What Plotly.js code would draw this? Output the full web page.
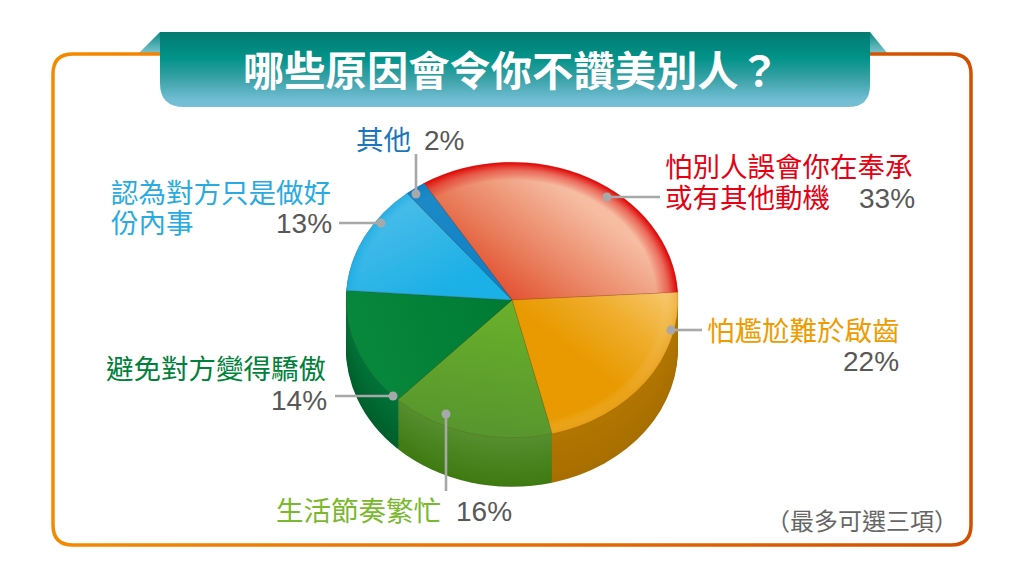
<!DOCTYPE html>
<html><head><meta charset="utf-8">
<script src="https://cdn.plot.ly/plotly-3.0.1.min.js"></script>
<style>html,body{margin:0;padding:0;background:#fff}#c{width:1024px;height:576px}</style>
</head><body><div id="c"></div>
<script>
const categories = ['怕別人誤會你在奉承或有其他動機','怕尷尬難於啟齒','生活節奏繁忙','避免對方變得驕傲','認為對方只是做好份內事','其他'];
const values = [33,22,16,14,13,2];
const titleText = '哪些原因會令你不讚美別人？';
const noteText = '（最多可選三項）';
const wallTop = ['#c0392b','#b27600','#568f2e','#00743a','#1593c8','#0f70a8'];
const wallBottom = ['#a02818','#a86f00','#3f7a12','#005f2c','#107aa8','#0c5a88'];

const W=1024,H=576, fx=x=>x/W, fy=y=>1-y/H;
const cx=512, cy=300, rx=166, squash=0.83, depth=49, step=2;
const CJK='"Noto Sans CJK TC","Noto Sans CJK SC",sans-serif', LAT='"Liberation Sans",Arial,sans-serif';
const hex=c=>[1,3,5].map(i=>parseInt(c.substr(i,2),16));
const mix=(a,b,t)=>{const A=hex(a),B=hex(b);return 'rgb('+A.map((v,i)=>Math.round(v+(B[i]-v)*t)).join(',')+')';};
const pie=(yOff,colors,line)=>({type:'pie',values:values,labels:categories,sort:false,direction:'clockwise',rotation:-32,
  textinfo:'none',hoverinfo:'skip',showlegend:false,
  domain:{x:[fx(cx-rx),fx(cx+rx)],y:[fy(cy+yOff+rx),fy(cy+yOff-rx)]},
  marker:{colors:colors,line:line||{width:0}}});
const traces=[];
for(let d=depth;d>0;d-=step){
  traces.push(pie(d/squash,wallTop.map((c,i)=>mix(c,wallBottom[i],d/depth))));
}
traces.push(pie(0,['#e0401e','#e89a00','#63a82a','#007c36','#1db0e6','#1182c8'],{width:0.8,color:'rgba(90,50,30,0.28)'}));
traces.push(pie(0,values.map(()=>'rgba(0,0,0,0)')));
const nLayers=traces.length;

const ann=(text,x,y,anchor,color,size,font)=>({text:text,x:fx(x),y:fy(y),xref:'paper',yref:'paper',xanchor:anchor,yanchor:'middle',showarrow:false,
  font:{family:font||CJK,size:size||27.5,color:color}});
const GREY='#595757';
const annotations=[
  ann('<b>'+titleText+'</b>',511,68,'center','#ffffff',41.3),
  ann('其他',354,138,'left','#1a75bb'),
  ann(values[5]+'%',466,140,'right',GREY,28,LAT),
  ann('認為對方只是做好',109,191,'left','#29abe2'),
  ann('份內事',109,221,'left','#29abe2'),
  ann(values[4]+'%',334,223,'right',GREY,28,LAT),
  ann('怕別人誤會你在奉承',663,165,'left','#e60012'),
  ann('或有其他動機',663,196,'left','#e60012'),
  ann(values[0]+'%',917,198,'right',GREY,28,LAT),
  ann('怕尷尬難於啟齒',705,329,'left','#ee9c00'),
  ann(values[1]+'%',901,361,'right',GREY,28,LAT),
  ann('避免對方變得驕傲',104,367,'left','#00813a'),
  ann(values[3]+'%',329,400,'right',GREY,28,LAT),
  ann('生活節奏繁忙',274,509,'left','#7ab82d'),
  ann(values[2]+'%',514,511,'right',GREY,28,LAT),
  ann(noteText,862,519,'center','#666666',24)
];
const pth=pts=>pts.map(p=>typeof p==='string'?p:fx(p[0])+','+fy(p[1])).join(' ');
const rrect=(l,t,r,b,q)=>'M'+pth([[l+q,t]])+' L'+pth([[r-q,t]])+' Q'+pth([[r,t],[r,t+q]])+' L'+pth([[r,b-q]])+' Q'+pth([[r,b],[r-q,b]])+' L'+pth([[l+q,b]])+' Q'+pth([[l,b],[l,b-q]])+' L'+pth([[l,t+q]])+' Q'+pth([[l,t],[l+q,t]])+' Z';
const base={xref:'paper',yref:'paper',layer:'below'};
const shapes=[
  Object.assign({},base,{type:'path',path:'M'+pth([[138,54]])+' L'+pth([[160,32]])+' L'+pth([[160,54]])+' Z',fillcolor:'#3aa0a0',line:{width:0}}),
  Object.assign({},base,{type:'path',path:'M'+pth([[870,32]])+' L'+pth([[888,54]])+' L'+pth([[870,54]])+' Z',fillcolor:'#3aa0a0',line:{width:0}}),
  Object.assign({},base,{type:'path',path:rrect(53,54,971,545,20),fillcolor:'rgba(0,0,0,0)',line:{width:3.5,color:'#e86a00'}}),
  Object.assign({},base,{type:'path',path:'M'+pth([[160,32]])+' L'+pth([[870,32]])+' L'+pth([[870,85]])+' Q'+pth([[870,107],[848,107]])+' L'+pth([[184,107]])+' Q'+pth([[160,107],[160,83]])+' Z',fillcolor:'#04867c',line:{width:0}})
];
const LEAD='#a7a8a9';
const lead=(x0,y0,x1,y1)=>{
  shapes.push({type:'line',xref:'paper',yref:'paper',layer:'above',x0:fx(x0),y0:fy(y0),x1:fx(x1),y1:fy(y1),line:{color:LEAD,width:2.6}});
  shapes.push({type:'circle',xref:'paper',yref:'paper',layer:'above',x0:fx(x0-4.5),x1:fx(x0+4.5),y0:fy(y0-4.5),y1:fy(y0+4.5),fillcolor:LEAD,line:{width:0}});
};
lead(416,194,416,154);
lead(607,197,660,197);
lead(671,330,702,330);
lead(381,223,339,223);
lead(393,396,335,396);
lead(446,414,446,491);

Plotly.newPlot('c',traces,{width:W,height:H,margin:{l:0,r:0,t:0,b:0},paper_bgcolor:'#fff',plot_bgcolor:'#fff',showlegend:false,annotations:annotations,shapes:shapes},{staticPlot:true,displayModeBar:false}).then(gd=>{
  const NS='http://www.w3.org/2000/svg';
  const svg=gd.querySelector('svg.main-svg');
  const defs=document.createElementNS(NS,'defs'); svg.insertBefore(defs,svg.firstChild);
  const grad=(id,kind,attrs,stops)=>{
    const g=document.createElementNS(NS,kind); g.setAttribute('id',id);
    Object.keys(attrs).forEach(k=>g.setAttribute(k,attrs[k]));
    stops.forEach(s=>{const e=document.createElementNS(NS,'stop');e.setAttribute('offset',s[0]);e.setAttribute('stop-color',s[1]);if(s[2]!==undefined)e.setAttribute('stop-opacity',s[2]);g.appendChild(e);});
    defs.appendChild(g); return 'url(#'+id+')';
  };
  const U={gradientUnits:'userSpaceOnUse',gradientTransform:'translate('+cx+','+cy+')'};
  const tops=[
    grad('t0','linearGradient',Object.assign({x1:-30,y1:10,x2:80,y2:-110},U),[[0,'#e03a1c'],[.45,'#e87a58'],[1,'#f6bda2']]),
    grad('t1','linearGradient',Object.assign({x1:70,y1:70,x2:155,y2:-20},U),[[0,'#e89a00'],[.5,'#efae2e'],[1,'#f8cb74']]),
    grad('t2','linearGradient',Object.assign({x1:0,y1:0,x2:-25,y2:160},U),[[0,'#6ab12a'],[1,'#58962e']]),
    grad('t3','linearGradient',Object.assign({x1:0,y1:0,x2:-150,y2:40},U),[[0,'#007a33'],[1,'#07873c']]),
    grad('t4','linearGradient',Object.assign({x1:-40,y1:-30,x2:-110,y2:-140},U),[[0,'#1bb0e6'],[1,'#50bee9']]),
    grad('t5','linearGradient',Object.assign({x1:-20,y1:-30,x2:-90,y2:-150},U),[[0,'#1080c8'],[1,'#1f8cc6']])
  ];
  const rimAttrs=Object.assign({cx:0,cy:0,r:rx,fx:0,fy:0},U);
  const rims=[
    grad('r0','radialGradient',rimAttrs,[[.87,'#e00f0f',0],[.94,'#e0201a',.5],[.995,'#e00a0a',1]]),
    grad('r1','radialGradient',rimAttrs,[[.9,'#f8cf80',0],[1,'#e8a020',.6]]),
    grad('r2','radialGradient',rimAttrs,[[.9,'#58962e',0],[1,'#58962e',0]]),
    grad('r3','radialGradient',rimAttrs,[[.9,'#07873c',0],[1,'#07873c',0]]),
    grad('r4','radialGradient',rimAttrs,[[.93,'#1bb0e6',0],[1,'#1aa8e0',.7]]),
    grad('r5','radialGradient',rimAttrs,[[.9,'#0f80c8',0],[1,'#0f78c0',.8]])
  ];
  const groups=gd.querySelectorAll('.pielayer .trace');
  groups[nLayers-2].querySelectorAll('path.surface').forEach((p,i)=>{p.style.fill=tops[i];});
  groups[nLayers-1].querySelectorAll('path.surface').forEach((p,i)=>{p.style.fill=rims[i];p.style.fillOpacity=1;});
  gd.querySelector('.pielayer').setAttribute('transform','translate(0,'+cy+') scale(1,'+squash+') translate(0,'+(-cy)+')');
  const below=gd.querySelectorAll('.layer-below .shapelayer path');
  const fold=grad('fold','linearGradient',{x1:0,y1:0,x2:0,y2:1},[[0,'#0a8a80'],[1,'#80c6d2']]);
  below[0].style.fill=fold; below[1].style.fill=fold;
  below[2].style.stroke=grad('frame','linearGradient',{x1:0,y1:0,x2:1,y2:0},[[0,'#f48a00'],[.5,'#ea6e00'],[1,'#d24e00']]);
  below[3].style.fill=grad('ban','linearGradient',{x1:0,y1:0,x2:0,y2:1},[[0,'#037a70'],[.35,'#01938a'],[.6,'#35a0a4'],[.9,'#70bcd2'],[1,'#76bfd6']]);
});
</script></body></html>
